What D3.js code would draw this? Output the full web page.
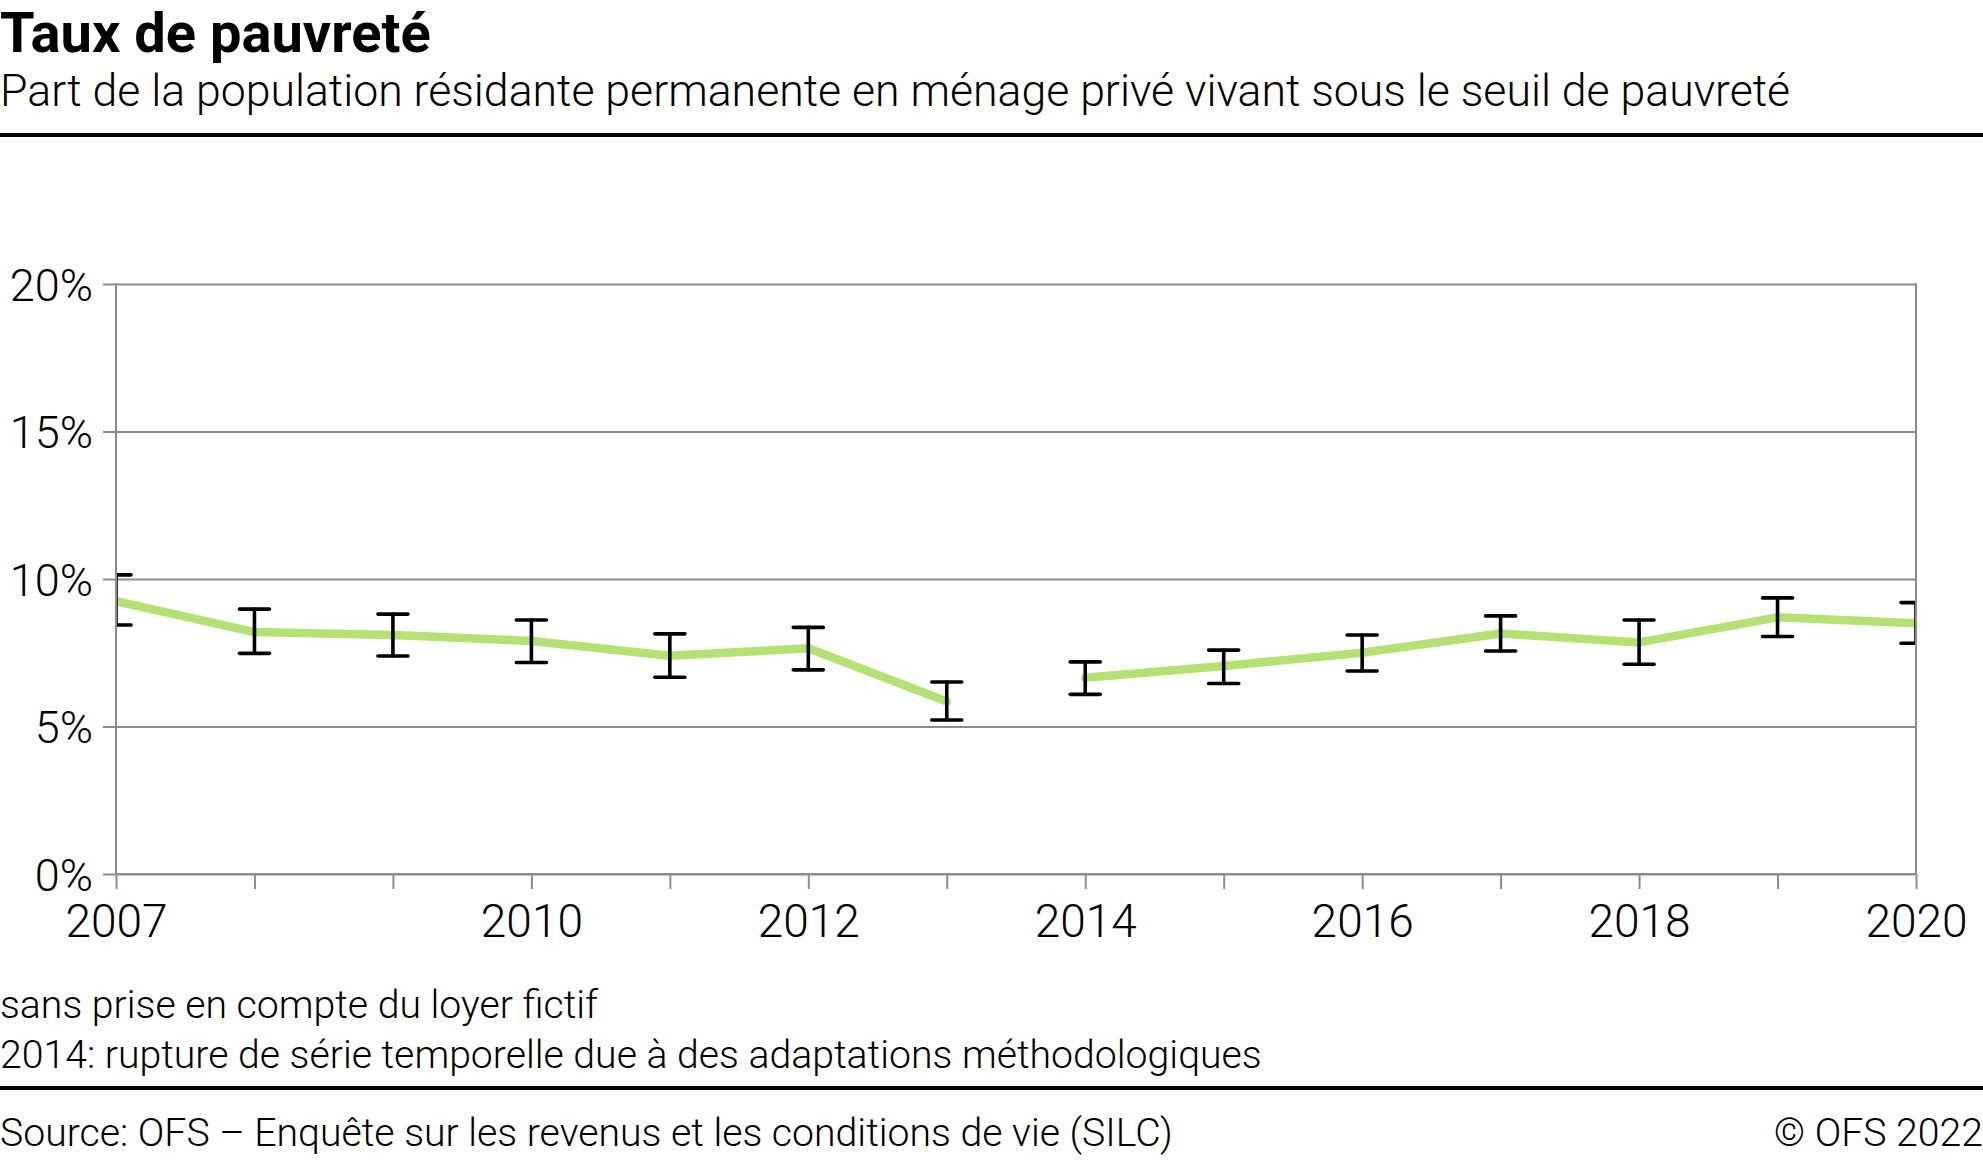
<!DOCTYPE html>
<html>
<head>
<meta charset="utf-8">
<script src="https://cdn.jsdelivr.net/npm/d3@7"></script>
<style>
  html, body { margin: 0; padding: 0; background: #fff; }
  svg { display: block; }
  text { font-family: Roboto, "Noto Sans", sans-serif; fill: #000; }
</style>
</head>
<body>
<svg id="chart" width="1983" height="1161"></svg>
<script>
// ---- data ----
const years  = [2007, 2008, 2009, 2010, 2011, 2012, 2013, 2014, 2015, 2016, 2017, 2018, 2019, 2020];
const rate   = [9.25, 8.2, 8.1, 7.9, 7.4, 7.65, 5.85, 6.65, 7.05, 7.5, 8.15, 7.85, 8.7, 8.5];
const lower  = [8.44, 7.48, 7.39, 7.17, 6.67, 6.92, 5.22, 6.09, 6.46, 6.88, 7.56, 7.11, 8.05, 7.82];
const upper  = [10.14, 8.98, 8.81, 8.61, 8.14, 8.36, 6.51, 7.19, 7.59, 8.10, 8.75, 8.61, 9.36, 9.20];
const breakYear = 2014;
const yTicks = [0, 5, 10, 15, 20];
const xLabelYears = [2007, 2010, 2012, 2014, 2016, 2018, 2020];

const title = "Taux de pauvreté";
const subtitle = "Part de la population résidante permanente en ménage privé vivant sous le seuil de pauvreté";
const notes = ["sans prise en compte du loyer fictif",
               "2014: rupture de série temporelle due à des adaptations méthodologiques"];
const source = "Source: OFS – Enquête sur les revenus et les conditions de vie (SILC)";
const copyright = "© OFS 2022";

// ---- layout ----
const W = 1983, H = 1161;
const L = 116, R = 1916, T = 284, B = 874;
const grey = "#8c8c8c";
const green = "#b4e173";

const svg = d3.select("#chart");

const x = d3.scaleLinear().domain([2007, 2020]).range([L, R]);
const y = d3.scaleLinear().domain([0, 20]).range([B, T]);

// header
svg.append("text").attr("x", 0).attr("y", 52)
  .style("font-size", "56px").style("font-weight", 700).text(title);
svg.append("text").attr("x", 0).attr("y", 106)
  .style("font-size", "44.6px").style("font-weight", 300).text(subtitle);
svg.append("rect").attr("x", 0).attr("y", 133).attr("width", W).attr("height", 4).attr("fill", "#000");

// gridlines
const grid = svg.append("g").attr("transform", `translate(${L},0)`)
  .call(d3.axisLeft(y).tickValues(yTicks).tickSize(-(R - L)).tickFormat(""));
grid.select(".domain").remove();
grid.selectAll("line").attr("stroke", grey).attr("stroke-width", 2);

// y axis
const yAxis = svg.append("g").attr("transform", `translate(${L},0)`)
  .call(d3.axisLeft(y).tickValues(yTicks).tickSize(13).tickPadding(10).tickFormat(d => d + "%"));
yAxis.select(".domain").remove();
yAxis.selectAll("line").attr("stroke", grey).attr("stroke-width", 2);
yAxis.selectAll("text").attr("dy", "0.36em")
  .style("font-size", "45px").style("font-weight", 300).style("font-family", "Roboto").attr("fill", "#000");

// x axis
const xAxis = svg.append("g").attr("transform", `translate(0,${B})`)
  .call(d3.axisBottom(x).tickValues(years).tickSize(15).tickPadding(15)
    .tickFormat(d => xLabelYears.includes(d) ? String(d) : ""));
xAxis.select(".domain").remove();
xAxis.selectAll("line").attr("stroke", grey).attr("stroke-width", 2);
xAxis.selectAll("text")
  .style("font-size", "46px").style("font-weight", 300).style("font-family", "Roboto").attr("fill", "#000");

// frame
svg.append("line").attr("x1", L).attr("x2", L).attr("y1", T - 1).attr("y2", B + 1)
  .attr("stroke", grey).attr("stroke-width", 2);
svg.append("line").attr("x1", R).attr("x2", R).attr("y1", T - 1).attr("y2", B + 1)
  .attr("stroke", grey).attr("stroke-width", 2);
svg.append("line").attr("x1", L - 1).attr("x2", R + 1).attr("y1", B).attr("y2", B)
  .attr("stroke", grey).attr("stroke-width", 2);

// clip
svg.append("clipPath").attr("id", "plotclip")
  .append("rect").attr("x", L + 1).attr("y", T - 20).attr("width", R - L - 2).attr("height", B - T + 40);

const data = years.map((yr, i) => ({ yr, v: rate[i], lo: lower[i], hi: upper[i] }));
const segA = data.filter(d => d.yr < breakYear);
const segB = data.filter(d => d.yr >= breakYear);

const line = d3.line().x(d => x(d.yr)).y(d => y(d.v));
const plot = svg.append("g").attr("clip-path", "url(#plotclip)");
[segA, segB].forEach(seg => {
  plot.append("path").attr("d", line(seg)).attr("fill", "none")
    .attr("stroke", green).attr("stroke-width", 8.5)
    .attr("stroke-linecap", "round").attr("stroke-linejoin", "round");
});

// error bars
const eb = plot.append("g").attr("stroke", "#000").attr("stroke-width", 3.6).attr("stroke-linecap", "round");
data.forEach(d => {
  const cx = x(d.yr);
  eb.append("line").attr("x1", cx).attr("x2", cx).attr("y1", y(d.hi)).attr("y2", y(d.lo));
  eb.append("line").attr("x1", cx - 15).attr("x2", cx + 15).attr("y1", y(d.hi)).attr("y2", y(d.hi));
  eb.append("line").attr("x1", cx - 15).attr("x2", cx + 15).attr("y1", y(d.lo)).attr("y2", y(d.lo));
});

// footer
svg.selectAll("text.note").data(notes).enter().append("text").attr("class", "note")
  .attr("x", 0).attr("y", (d, i) => 1018 + i * 50)
  .style("font-size", "39.2px").style("font-weight", 300).text(d => d);
svg.append("rect").attr("x", 0).attr("y", 1086).attr("width", W).attr("height", 4).attr("fill", "#000");
svg.append("text").attr("x", 0).attr("y", 1146)
  .style("font-size", "39.2px").style("font-weight", 300).text(source);
svg.append("text").attr("x", W).attr("y", 1146).attr("text-anchor", "end")
  .style("font-size", "39.2px").style("font-weight", 300).text(copyright);
</script>
</body>
</html>
